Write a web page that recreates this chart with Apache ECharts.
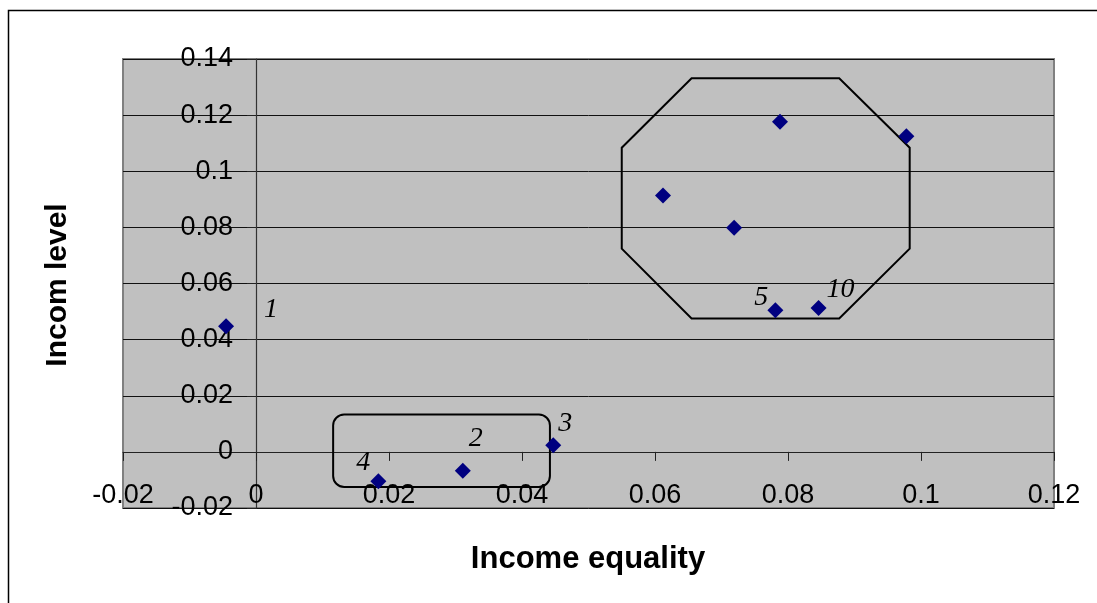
<!DOCTYPE html>
<html>
<head>
<meta charset="utf-8">
<script src="https://cdn.jsdelivr.net/npm/echarts@6/dist/echarts.min.js"></script>
<style>
  html, body { margin: 0; padding: 0; background: #fff; }
  #chart { width: 1097px; height: 603px; }
</style>
</head>
<body>
<div id="chart"></div>
<script>
// Region scores: income equality (x) against income level (y)
const equality = [-0.0045, 0.0184, 0.0311, 0.0447, 0.0612, 0.0719, 0.0781, 0.0788, 0.0846, 0.0978];
const level    = [0.0448, -0.0105, -0.0067, 0.0024, 0.0914, 0.0799, 0.0505, 0.1176, 0.0513, 0.1125];
const pointTags = ['1', '4', '2', '3', '', '', '5', '', '10', ''];

// Axis ranges and tick step
const xRange = [-0.02, 0.12];
const yRange = [-0.02, 0.14];
const tickStep = 0.02;

// Group outlines in data units
const highGroupOutline = [
  [0.0655, 0.1331], [0.0877, 0.1331], [0.0983, 0.1084], [0.0983, 0.0724],
  [0.0877, 0.0475], [0.0655, 0.0475], [0.0550, 0.0724], [0.0550, 0.1084]
];
const lowGroupBox = { x0: 0.0116, x1: 0.0442, y0: -0.0125, y1: 0.0133 };

// Where each tag sits relative to its point (px)
const tagOffsets = { '1': [45, -17], '4': [-15, -19], '2': [13, -32], '3': [12, -21], '5': [-14, -13], '10': [22, -18] };

const points = equality.map((x, i) => {
  const item = { value: [x, level[i]], name: pointTags[i] };
  if (pointTags[i]) {
    item.label = { show: true, offset: tagOffsets[pointTags[i]] };
  }
  return item;
});

const tickFont = { fontFamily: 'Liberation Sans, Arial, sans-serif', fontSize: 27, color: '#000' };

const chart = echarts.init(document.getElementById('chart'), null, { renderer: 'canvas' });
chart.setOption({
  animation: false,
  backgroundColor: '#fff',
  grid: {
    left: 123, right: 43, top: 59, bottom: 95,
    show: true, backgroundColor: '#C0C0C0', borderColor: '#808080', borderWidth: 2
  },
  xAxis: {
    type: 'value', min: xRange[0], max: xRange[1], interval: tickStep,
    axisLine: { show: true, onZero: true, lineStyle: { color: '#222', width: 1.2 } },
    axisTick: { show: true, inside: false, length: 9, lineStyle: { color: '#222' } },
    // labels sit just above the bottom edge of the plot
    axisLabel: Object.assign({ margin: -26, showMinLabel: true, showMaxLabel: true }, tickFont),
    splitLine: { show: false }
  },
  yAxis: {
    type: 'value', min: yRange[0], max: yRange[1], interval: tickStep,
    axisLine: { show: true, onZero: true, lineStyle: { color: '#333', width: 1.2 } },
    axisTick: { show: true, inside: false, length: 9, lineStyle: { color: '#222' } },
    // labels sit beside the vertical axis at x = 0
    axisLabel: Object.assign({ margin: -110, showMinLabel: true, showMaxLabel: true }, tickFont),
    splitLine: { show: true, lineStyle: { color: '#111', width: 1 } }
  },
  series: [
    {
      type: 'custom',
      coordinateSystem: 'cartesian2d',
      data: [[0, 0]],
      z: 3,
      silent: true,
      renderItem: function (params, api) {
        const pts = highGroupOutline.map(p => api.coord(p));
        const tl = api.coord([lowGroupBox.x0, lowGroupBox.y1]);
        const br = api.coord([lowGroupBox.x1, lowGroupBox.y0]);
        return {
          type: 'group',
          children: [
            { type: 'polygon', shape: { points: pts },
              style: { fill: 'none', stroke: '#000', lineWidth: 2 } },
            { type: 'rect', shape: { x: tl[0], y: tl[1], width: br[0] - tl[0], height: br[1] - tl[1], r: 11 },
              style: { fill: 'none', stroke: '#000', lineWidth: 2 } }
          ]
        };
      }
    },
    {
      type: 'scatter',
      symbol: 'diamond',
      symbolSize: 16,
      z: 5,
      itemStyle: { color: '#000080', opacity: 1 },
      label: {
        show: false,
        position: 'inside',
        formatter: '{b}',
        fontFamily: 'Liberation Serif, Times New Roman, serif',
        fontStyle: 'italic',
        fontSize: 28,
        color: '#000',
        opacity: 1
      },
      data: points
    }
  ],
  graphic: [
    { type: 'rect', x: 8.5, y: 10.5, z: 100, silent: true,
      shape: { width: 1200, height: 700 },
      style: { fill: 'none', stroke: '#000', lineWidth: 1.5 } },
    { type: 'text', x: 58, y: 285, rotation: Math.PI / 2, z: 100,
      style: { text: 'Incom level', fontFamily: 'Liberation Sans, Arial, sans-serif', fontWeight: 'bold',
               fontSize: 30, fill: '#000', align: 'center', verticalAlign: 'middle' } },
    { type: 'text', x: 588, y: 559, z: 100,
      style: { text: 'Income equality', fontFamily: 'Liberation Sans, Arial, sans-serif', fontWeight: 'bold',
               fontSize: 31, fill: '#000', align: 'center', verticalAlign: 'middle' } }
  ]
});
</script>
</body>
</html>
